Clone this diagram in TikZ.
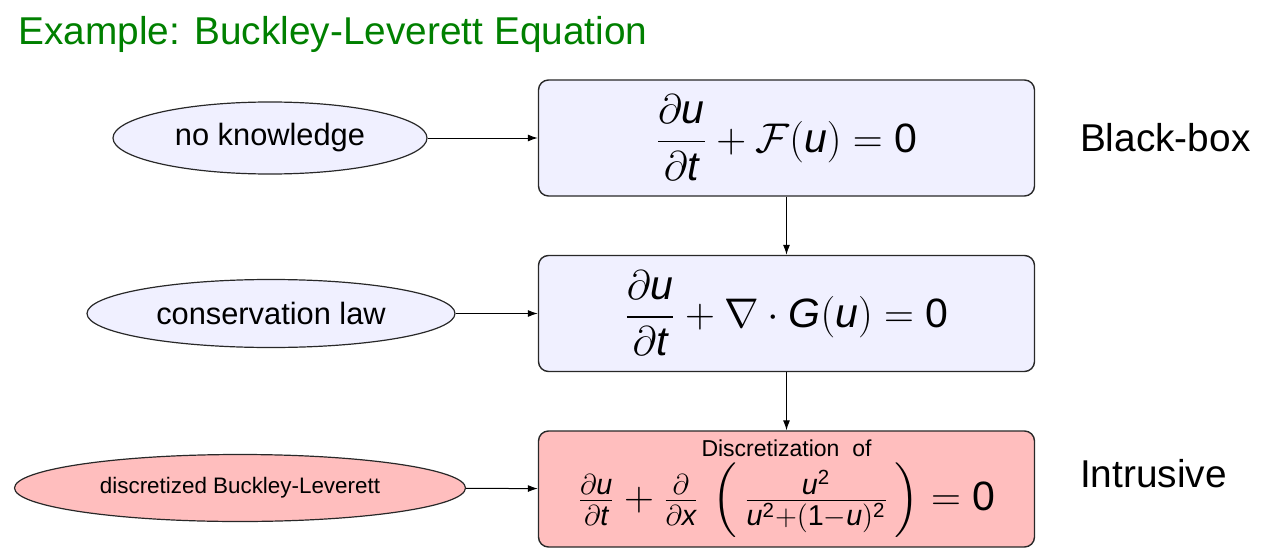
\documentclass[tikz,border=0pt]{standalone}
\usepackage{amsmath}
\usepackage{mathspec}
\setmainfont{Liberation Sans}
\setmathsfont(Digits,Latin){Liberation Sans}
\usetikzlibrary{
  shapes.geometric,
  arrows.meta,
  positioning
}
\definecolor{TitleGreen}{RGB}{0, 128, 0}
\definecolor{PaleBlue}{RGB}{240, 240, 255}
\definecolor{PaleRed}{RGB}{255, 190, 190}
\definecolor{EdgeGray}{RGB}{40, 40, 40}
\tikzset{
    eqbox/.style={rectangle, draw=EdgeGray, line width=0.7pt, rounded corners=5pt,
        minimum width=248pt, minimum height=58pt, inner sep=0pt, align=center,
        font=\fontsize{20.5}{24}\selectfont},
    infoell/.style={ellipse, draw=EdgeGray, line width=0.6pt, inner sep=0pt,
        font=\fontsize{15.4}{18}\selectfont},
    flowarrow/.style={-{Latex[length=5pt, width=3.5pt]}, line width=0.5pt, black},
    sidelabel/.style={anchor=west, font=\fontsize{19.4}{23}\selectfont}
}

\begin{document}
\begin{tikzpicture}[x=0.5pt, y=-0.5pt]
    \useasboundingbox (0,0) rectangle (1268,556);
    \node[anchor=base west, text=TitleGreen, font=\fontsize{19.4}{23}\selectfont, inner sep=0pt]
        (title) at (18,45) {Example: Buckley-Leverett Equation};

    \node[eqbox, fill=PaleBlue] (blackbox) at (786.5,138) {$\dfrac{\partial u}{\partial t} + \mathcal{F}(u) = 0$};
    \node[eqbox, fill=PaleBlue] (conslaw) at (786.5,313.5) {$\dfrac{\partial u}{\partial t} + \nabla \cdot G(u) = 0$};
    \node[eqbox, fill=PaleRed] (intrusive) at (786.5,489) {
        {\fontsize{11.5}{12}\selectfont Discretization\ \ of}\\[3pt]
        $\frac{\partial u}{\partial t} + \frac{\partial}{\partial x}\,\left(\,\frac{u^2}{u^2+(1-u)^2}\,\right) = 0$};

    \node[infoell, fill=PaleBlue, minimum width=157pt, minimum height=36pt] (know) at (270,138) {no knowledge};
    \node[infoell, fill=PaleBlue, minimum width=184pt, minimum height=34pt] (cons) at (271,313.5) {conservation law};
    \node[infoell, fill=PaleRed, minimum width=225.5pt, minimum height=33.5pt,
        font=\fontsize{11.2}{13}\selectfont] (disc) at (240,488) {discretized Buckley-Leverett};

    \node[sidelabel] (bblabel) at (1073,138) {Black-box};
    \node[sidelabel] (intlabel) at (1073,474) {Intrusive};

    \draw[flowarrow] (know) -- (blackbox);
    \draw[flowarrow] (cons) -- (conslaw);
    \draw[flowarrow] (disc) -- (intrusive);
    \draw[flowarrow] (blackbox) -- (conslaw);
    \draw[flowarrow] (conslaw) -- (intrusive);
\end{tikzpicture}
\end{document}
